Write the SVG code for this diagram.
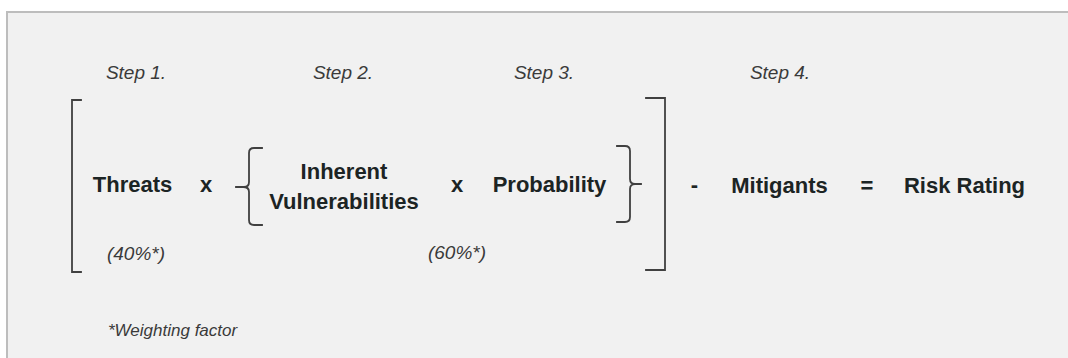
<svg xmlns="http://www.w3.org/2000/svg" width="1068" height="358" viewBox="0 0 1068 358">
<style>
.b{font-family:"Liberation Sans",Arial,sans-serif;font-weight:bold;font-size:22px;fill:#1c2424;text-anchor:middle}
.i{font-family:"Liberation Sans",Arial,sans-serif;font-style:italic;font-size:19px;fill:#3a3a3a;text-anchor:middle}
.br{fill:none;stroke:#404040;stroke-width:1.8;stroke-linecap:square}
</style>
<rect x="0" y="0" width="1068" height="358" fill="#ffffff"/>
<rect id="panel" x="7" y="12" width="1075" height="360" fill="#f1f1f1" stroke="#bdbdbd" stroke-width="2"/>
<g id="step1"><text class="i" x="136" y="79">Step 1.</text></g>
<g id="step2"><text class="i" x="343" y="79">Step 2.</text></g>
<g id="step3"><text class="i" x="544" y="79">Step 3.</text></g>
<g id="step4"><text class="i" x="780" y="79">Step 4.</text></g>
<g id="bracket-outer-left"><path class="br" d="M81,100 H72 V272 H81"/></g>
<g id="bracket-outer-right"><path class="br" d="M646,98 H665 V270 H646"/></g>
<g id="brace-inner-left"><path class="br" d="M262,148 H254 Q249,148 249,153 V182 Q249,187 244,187 H236 M244,187 Q249,187 249,192 V220 Q249,225 254,225 H262"/></g>
<g id="brace-inner-right"><path class="br" d="M617,146 H625 Q630,146 630,151 V179 Q630,184 635,184 H641 M635,184 Q630,184 630,189 V217 Q630,222 625,222 H617"/></g>
<g id="threats"><text class="b" x="132.5" y="192">Threats</text></g>
<g id="op-times-1"><text class="b" x="206" y="192">x</text></g>
<g id="inherent-vulnerabilities"><text class="b" x="344" y="179">Inherent</text><text class="b" x="344" y="209">Vulnerabilities</text></g>
<g id="op-times-2"><text class="b" x="457" y="192">x</text></g>
<g id="probability"><text class="b" x="549.5" y="192">Probability</text></g>
<g id="op-minus"><text class="b" x="694.5" y="192">-</text></g>
<g id="mitigants"><text class="b" x="779.5" y="193">Mitigants</text></g>
<g id="op-equals"><text class="b" x="867" y="193">=</text></g>
<g id="risk-rating"><text class="b" x="964.5" y="193">Risk Rating</text></g>
<g id="weight-40"><text class="i" x="136" y="260">(40%*)</text></g>
<g id="weight-60"><text class="i" x="457" y="259">(60%*)</text></g>
<g id="footnote"><text class="i" x="108" y="336" style="text-anchor:start;font-size:17px">*Weighting factor</text></g>
</svg>
